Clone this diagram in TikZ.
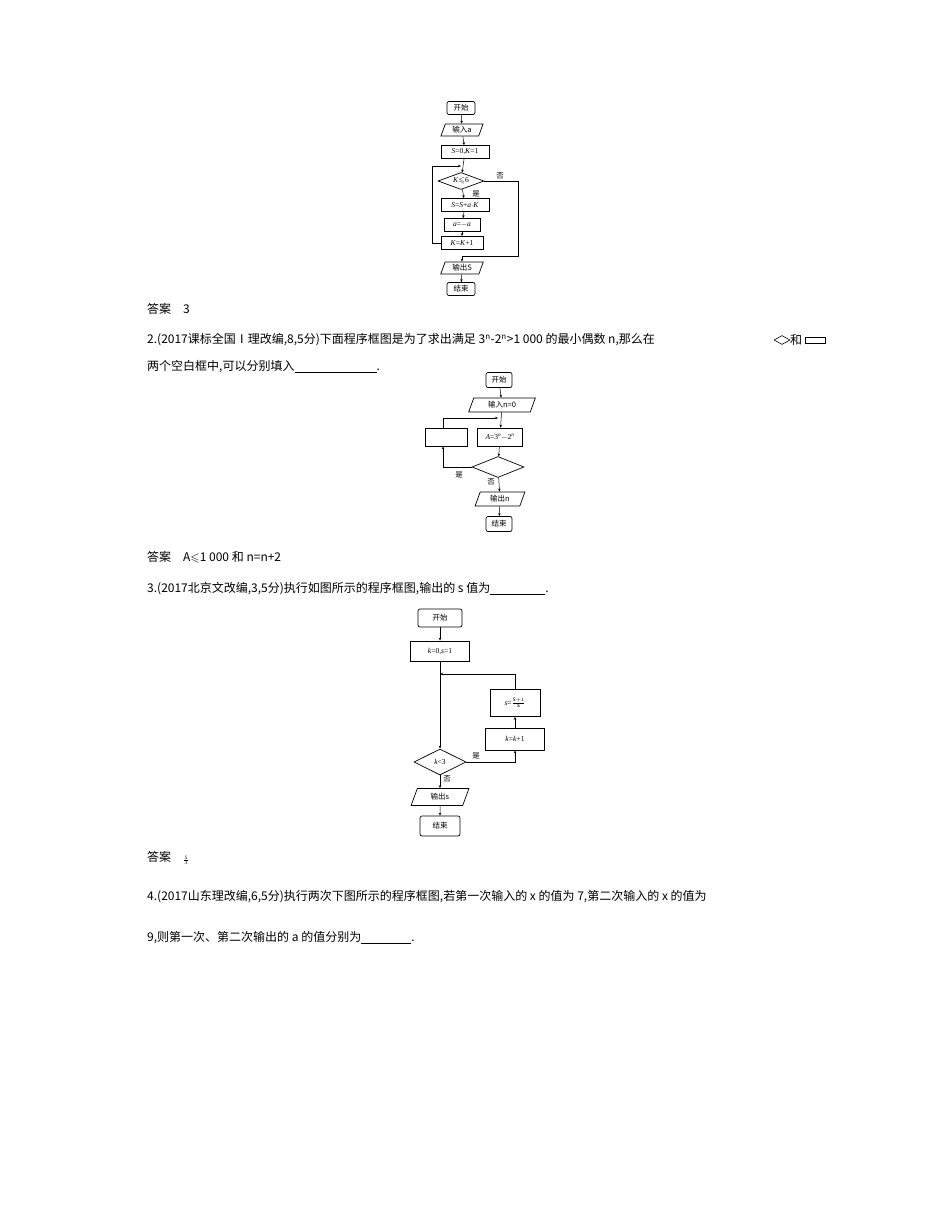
\documentclass[tikz,border=0pt]{standalone}
\usepackage{amssymb}
\usepackage{fontspec}
\setmainfont{Liberation Serif}
\newfontfamily\cjk{Noto Sans CJK SC}
\usetikzlibrary{shapes.geometric,arrows.meta}
\begin{document}
\begin{tikzpicture}[x=1pt,y=-1pt,
  every node/.style={inner sep=0pt},
  lbl/.style={font=\fontsize{7.5}{8}\selectfont},
  txt/.style={anchor=west,font=\fontsize{12}{14}\selectfont\cjk},
  term/.style={draw,rounded corners=2pt,line width=0.7pt,lbl},
  proc/.style={draw,line width=0.7pt,lbl},
  io/.style={draw,trapezium,trapezium left angle=70,trapezium right angle=110,line width=0.7pt,lbl},
  dec/.style={draw,diamond,aspect=2.8,line width=0.7pt,lbl},
  ar/.style={-{Stealth[length=3pt,width=2.5pt]},line width=0.5pt},
  ln/.style={line width=0.5pt}]
\fill[white] (0,0) rectangle (950,1224);
% chart 1
\node[term,minimum width=28,minimum height=13] (a1) at (461,108) {\cjk 开始};
\node[io,minimum width=38,minimum height=12] (a2) at (462,130) {\cjk 输入\textit{a}};
\node[proc,minimum width=48,minimum height=13] (a3) at (465,152) {\textit{S}=0,\textit{K}=1};
\node[dec,minimum width=46,minimum height=17] (a4) at (461,181) {\textit{K}$\leqslant$6};
\node[proc,minimum width=48,minimum height=13] (a5) at (465,205) {\textit{S}=\textit{S}+\textit{a}$\cdot$\textit{K}};
\node[proc,minimum width=36,minimum height=13] (a6) at (462,225) {\textit{a}=$-$\textit{a}};
\node[proc,minimum width=42,minimum height=13] (a7) at (462,243) {\textit{K}=\textit{K}+1};
\node[io,minimum width=38,minimum height=12] (a8) at (462,268) {\cjk 输出\textit{S}};
\node[term,minimum width=28,minimum height=13] (a9) at (461,289) {\cjk 结束};
\coordinate (c1) at (461,166);
\coordinate (c2) at (462,256);
\draw[ar] (a1)--(a2); \draw[ar] (a2)--(a3); \draw[ar] (a3)--(a4);
\draw[ar] (a4)--(a5); \draw[ar] (a5)--(a6); \draw[ar] (a6)--(a7); \draw[ar] (a8)--(a9);
\draw[ar] (a7.west)--(432,243)--(432,166)--(c1);
\draw[ar] (a4.east)--(518,181)--(518,256)--(c2)--(a8);
\node[lbl] at (500,176) {\cjk 否};
\node[lbl] at (476,194) {\cjk 是};
\node[txt] (t1) at (147,309) {答案\quad 3};
\node[txt] (t2) at (147,340) {2.(2017课标全国Ⅰ理改编,8,5分)下面程序框图是为了求出满足 3\textsuperscript{n}-2\textsuperscript{n}>1 000 的最小偶数 n,那么在};
\node[draw,diamond,aspect=2,minimum width=16,minimum height=9,line width=0.6pt] (dd) at (782,340) {};
\node[txt] (t2b) at (790,340) {和};
\node[draw,minimum width=20,minimum height=6,line width=0.6pt] (rr) at (815,340) {};
\node[txt] (t3) at (147,367) {两个空白框中,可以分别填入\underline{\hspace{82pt}}.};
% chart 2
\node[term,minimum width=26,minimum height=15] (b1) at (499,380) {\cjk 开始};
\node[io,minimum width=50,minimum height=14] (b2) at (502,405) {\cjk 输入\textit{n}=0};
\node[proc,minimum width=45,minimum height=18] (b3) at (500,437) {\textit{A}=3\textsuperscript{\textit{n}}$-$2\textsuperscript{\textit{n}}};
\node[proc,minimum width=42,minimum height=18] (b4) at (446,437) {};
\node[dec,minimum width=52,minimum height=21,aspect=2.6] (b5) at (498,467) {};
\node[io,minimum width=50,minimum height=14] (b6) at (500,499) {\cjk 输出\textit{n}};
\node[term,minimum width=26,minimum height=15] (b7) at (499,524) {\cjk 结束};
\coordinate (c3) at (498,418);
\draw[ar] (b1)--(b2); \draw[ar] (b2)--(b3); \draw[ar] (b3)--(b5); \draw[ar] (b5)--(b6); \draw[ar] (b6)--(b7);
\draw[ar] (b5.west)--(443,467)--(b4.south -| 443,0);
\draw[ar] (b4.north -| 443,0)--(443,418)--(c3);
\node[lbl] at (459,475) {\cjk 是};
\node[lbl] at (491,482) {\cjk 否};
\node[txt] (t4) at (147,557) {答案\quad A$\leqslant$1 000 和 n=n+2};
\node[txt] (t5) at (147,589) {3.(2017北京文改编,3,5分)执行如图所示的程序框图,输出的 s 值为\underline{\hspace{55pt}}.};
% chart 3
\node[term,minimum width=44,minimum height=18] (d1) at (440,618) {\cjk 开始};
\node[proc,minimum width=59,minimum height=20] (d2) at (440,651) {\textit{k}=0,\textit{s}=1};
\node[proc,minimum width=50,minimum height=27] (d3) at (515,703) {\textit{s}=$\frac{\textit{s}+1}{\textit{s}}$};
\node[proc,minimum width=59,minimum height=22] (d4) at (515,739) {\textit{k}=\textit{k}+1};
\node[dec,minimum width=52,minimum height=26,aspect=2] (d5) at (440,762) {\textit{k}<3};
\node[io,minimum width=58,minimum height=15] (d6) at (440,797) {\cjk 输出\textit{s}};
\node[term,minimum width=40,minimum height=20] (d7) at (440,826) {\cjk 结束};
\coordinate (c4) at (440,674);
\draw[ar] (d1)--(d2); \draw[ar] (d2)--(d5); \draw[ar] (d5)--(d6); \draw[ar] (d6)--(d7);
\draw[ar] (d5.east)--(515,762)--(d4);
\draw[ar] (d4)--(d3);
\draw[ar] (d3.north)--(515,674)--(c4);
\node[lbl] at (476,756) {\cjk 是};
\node[lbl] at (447,779) {\cjk 否};
\node[txt] (t6) at (147,858) {答案\quad\raisebox{0pt}{\fontsize{7}{7}\selectfont$\frac{5}{3}$}};
\node[txt] (t7) at (147,897) {4.(2017山东理改编,6,5分)执行两次下图所示的程序框图,若第一次输入的 x 的值为 7,第二次输入的 x 的值为};
\node[txt] (t8) at (147,938) {9,则第一次、第二次输出的 a 的值分别为\underline{\hspace{50pt}}.};
\end{tikzpicture}
\end{document}
